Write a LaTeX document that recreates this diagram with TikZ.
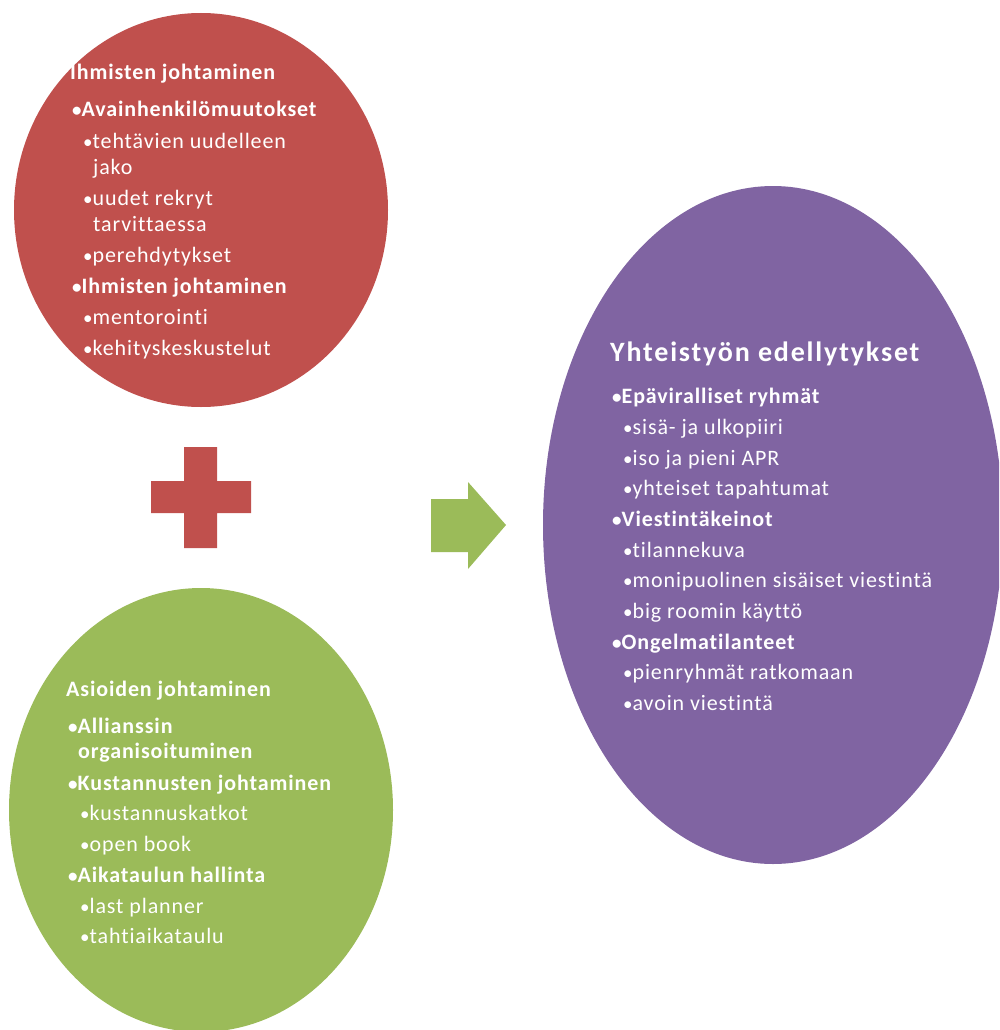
\documentclass[tikz,border=0pt]{standalone}
\usepackage{fontspec}
\setmainfont{Carlito}[LetterSpace=4, Ligatures=NoCommon]
\newfontfamily\ttlfont{Carlito}[LetterSpace=6.5, Ligatures=NoCommon]
\definecolor{cred}{HTML}{C0504D}
\definecolor{cgreen}{HTML}{9BBB59}
\definecolor{cpurple}{HTML}{8064A2}
\newcommand{\bul}{{\fontsize{19}{19}\selectfont•}}
\begin{document}
\begin{tikzpicture}[x=1pt,y=-1pt,
  txt/.style={anchor=base west, inner sep=0pt, text=white, font=\fontsize{22}{25}\selectfont},
  hd/.style={txt, font=\fontsize{22}{25}\selectfont\bfseries},
  ttl/.style={txt, font=\ttlfont\fontsize{28}{30}\selectfont\bfseries}]
\useasboundingbox (0,0) rectangle (999,1030);
\clip (0,0) rectangle (999,1030);
% shapes
\fill[cred] (201,210) ellipse [x radius=187pt, y radius=197pt];
\fill[cgreen] (201,810) ellipse [x radius=192pt, y radius=222pt];
\fill[cpurple] (773,525) ellipse [x radius=230pt, y radius=339pt];
\fill[cred] (184,447) -- (217,447) -- (217,481) -- (251,481) -- (251,513) -- (217,513)
  -- (217,548) -- (184,548) -- (184,513) -- (151,513) -- (151,481) -- (184,481) -- cycle;
\fill[cgreen] (431,499) -- (468,499) -- (468,482) -- (506,525) -- (468,569) -- (468,552)
  -- (431,552) -- cycle;
% red text
\node[hd]  (r1)  at (70,80)  {Ihmisten johtaminen};
\node[hd]  (r2)  at (72,117) {\bul Avainhenkilömuutokset};
\node[txt] (r3)  at (83,148) {\bul tehtävien uudelleen};
\node[txt] (r4)  at (93,174) {jako};
\node[txt] (r5)  at (83,205) {\bul uudet rekryt};
\node[txt] (r6)  at (93,231) {tarvittaessa};
\node[txt] (r7)  at (83,262) {\bul perehdytykset};
\node[hd]  (r8)  at (72,293) {\bul Ihmisten johtaminen};
\node[txt] (r9)  at (83,324) {\bul mentorointi};
\node[txt] (r10) at (83,355) {\bul kehityskeskustelut};
% green text
\node[hd]  (g1) at (66,696) {Asioiden johtaminen};
\node[hd]  (g2) at (68,733) {\bul Allianssin};
\node[hd]  (g3) at (78,758) {organisoituminen};
\node[hd]  (g4) at (68,790) {\bul Kustannusten johtaminen};
\node[txt] (g5) at (80,820) {\bul kustannuskatkot};
\node[txt] (g6) at (80,851) {\bul open book};
\node[hd]  (g7) at (68,882) {\bul Aikataulun hallinta};
\node[txt] (g8) at (80,913) {\bul last planner};
\node[txt] (g9) at (80,943) {\bul tahtiaikataulu};
% purple text
\node[ttl] (p0)  at (610,361) {Yhteistyön edellytykset};
\node[hd]  (p1)  at (612,403) {\bul Epäviralliset ryhmät};
\node[txt] (p2)  at (623,434) {\bul sisä- ja ulkopiiri};
\node[txt] (p3)  at (623,465) {\bul iso ja pieni APR};
\node[txt] (p4)  at (623,495) {\bul yhteiset tapahtumat};
\node[hd]  (p5)  at (612,526) {\bul Viestintäkeinot};
\node[txt] (p6)  at (623,557) {\bul tilannekuva};
\node[txt] (p7)  at (623,587) {\bul monipuolinen sisäiset viestintä};
\node[txt] (p8)  at (623,618) {\bul big roomin käyttö};
\node[hd]  (p9)  at (612,649) {\bul Ongelmatilanteet};
\node[txt] (p10) at (623,679) {\bul pienryhmät ratkomaan};
\node[txt] (p11) at (623,710) {\bul avoin viestintä};
\end{tikzpicture}
\end{document}
